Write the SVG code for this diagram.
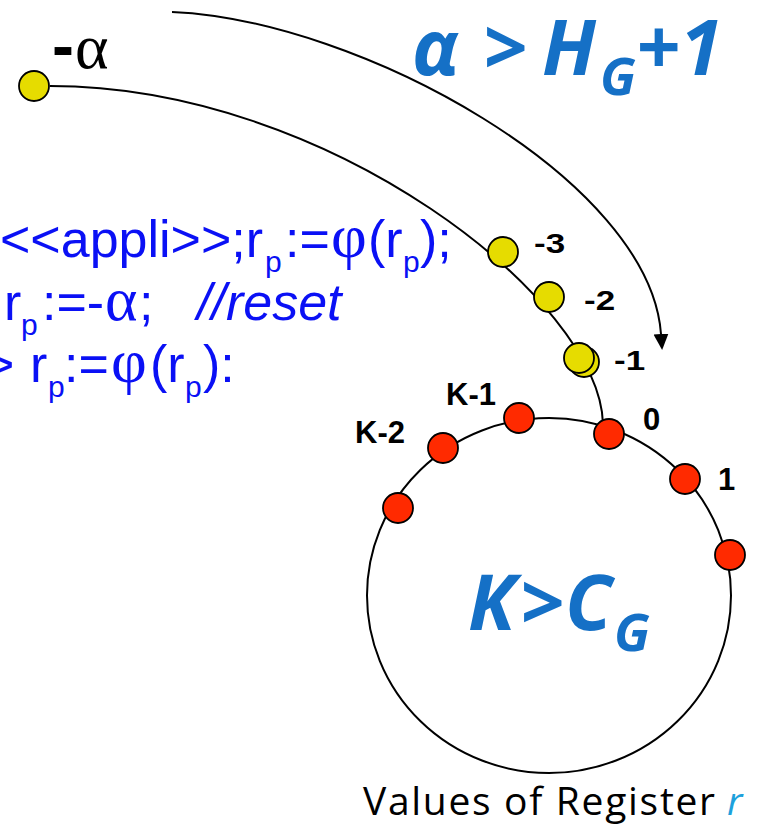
<svg xmlns="http://www.w3.org/2000/svg" width="758" height="827" viewBox="0 0 758 827">
<style>
.line{fill:none;stroke:#000;stroke-width:2}
.ydot{fill:#E6DC00;stroke:#000;stroke-width:1.8}
.rdot{fill:#FF2A00;stroke:#000;stroke-width:1.8}
.code{font-family:"Liberation Sans",Arial,sans-serif;font-size:52px;fill:#0A10F5}
.sub{font-size:30px}
.greek{font-family:"Liberation Serif","Times New Roman",serif;font-size:62px}
.lbl{font-family:"Liberation Sans",Arial,sans-serif;font-weight:bold;font-size:31px;fill:#000}
.lbls{font-family:"Liberation Sans",Arial,sans-serif;font-weight:bold;font-size:28px;fill:#000}
.big{font-family:"Open Sans","Liberation Sans",sans-serif;font-weight:bold;font-style:italic;font-size:77px;fill:#1570C6}
.bigsub{font-size:52px}
</style>
<defs>
<marker id="arr" markerUnits="userSpaceOnUse" markerWidth="17" markerHeight="16" refX="0" refY="7.5" orient="auto" viewBox="0 0 17 16">
<path d="M0,0 L16,7.5 L0,15 z" fill="#000"/>
</marker>
</defs>

<g id="connectors">
<path id="reset-path" class="line" d="M50,86 C330,86 600,300 603,424"/>
<path id="wrap-arrow" class="line" d="M172,12 C360,20 650,180 661,334" marker-end="url(#arr)"/>
<ellipse id="register-ring" class="line" cx="549" cy="595.5" rx="182" ry="177.5"/>
</g>

<g id="node-minus-alpha">
<circle class="ydot" cx="34" cy="86" r="15"/>
<text x="52" y="68" font-family="Liberation Sans,Arial,sans-serif" font-weight="bold" font-size="66" fill="#000">-</text>
<text x="75" y="68" font-family="Liberation Serif,Times New Roman,serif" font-size="64" fill="#000">α</text>
</g>

<g id="node-m3">
<circle class="ydot" cx="503" cy="252" r="15"/>
<text class="lbls" transform="translate(534,253) scale(1.25,1)" x="0" y="0">-3</text>
</g>
<g id="node-m2">
<circle class="ydot" cx="549" cy="297" r="15"/>
<text class="lbls" transform="translate(584,310) scale(1.25,1)" x="0" y="0">-2</text>
</g>
<g id="node-m1">
<circle class="ydot" cx="584" cy="362" r="15"/>
<circle class="ydot" cx="579" cy="358" r="15"/>
<text class="lbls" transform="translate(614,370) scale(1.25,1)" x="0" y="0">-1</text>
</g>

<g id="node-0">
<circle class="rdot" cx="609" cy="434" r="15"/>
<text class="lbl" x="643" y="430">0</text>
</g>
<g id="node-1">
<circle class="rdot" cx="685" cy="479" r="15"/>
<text class="lbl" x="718" y="490">1</text>
</g>
<g id="node-2">
<circle class="rdot" cx="730" cy="555" r="15"/>
</g>
<g id="node-k1">
<circle class="rdot" cx="519" cy="418" r="15"/>
<text class="lbl" x="446" y="405">K-1</text>
</g>
<g id="node-k2">
<circle class="rdot" cx="443" cy="448" r="15"/>
<text class="lbl" x="355" y="443">K-2</text>
</g>
<g id="node-k3">
<circle class="rdot" cx="398" cy="508" r="15"/>
</g>

<g id="code-text">
<text class="code" x="0" y="257">&lt;&lt;appli&gt;&gt;;r<tspan class="sub" x="265" y="272">p</tspan><tspan x="285" y="257">:=</tspan><tspan class="greek" x="331">φ</tspan><tspan x="368">(r</tspan><tspan class="sub" x="403" y="272">p</tspan><tspan x="420" y="257">);</tspan></text>
<text class="code" x="4" y="320">r<tspan class="sub" x="21" y="335">p</tspan><tspan x="42" y="320">:=-</tspan><tspan class="greek" x="105">α</tspan><tspan x="139">;</tspan><tspan x="197" font-style="italic">//reset</tspan></text>
<text class="code" x="-16" y="382">&gt;<tspan x="30">r</tspan><tspan class="sub" x="48" y="397">p</tspan><tspan x="64" y="382">:=</tspan><tspan class="greek" x="111">φ</tspan><tspan x="150">(r</tspan><tspan class="sub" x="185" y="397">p</tspan><tspan x="203" y="382">):</tspan></text>
</g>

<g id="label-alpha">
<text class="big" y="75"><tspan x="412">α</tspan><tspan x="483">&gt;</tspan><tspan x="542">H</tspan><tspan class="bigsub" x="600" y="95">G</tspan><tspan x="636" y="75">+1</tspan></text>
</g>

<g id="label-k">
<text class="big" y="630"><tspan x="468">K</tspan><tspan x="520">&gt;</tspan><tspan x="565">C</tspan><tspan class="bigsub" x="614" y="651">G</tspan></text>
</g>

<g id="caption">
<text x="363" y="815" font-family="Open Sans,Liberation Sans,sans-serif" font-size="39" fill="#000" textLength="352" lengthAdjust="spacing">Values of Register</text>
<text x="727" y="815" font-family="Open Sans,Liberation Sans,sans-serif" font-size="39" font-style="italic" fill="#1DA1DC">r</text>
</g>
</svg>
